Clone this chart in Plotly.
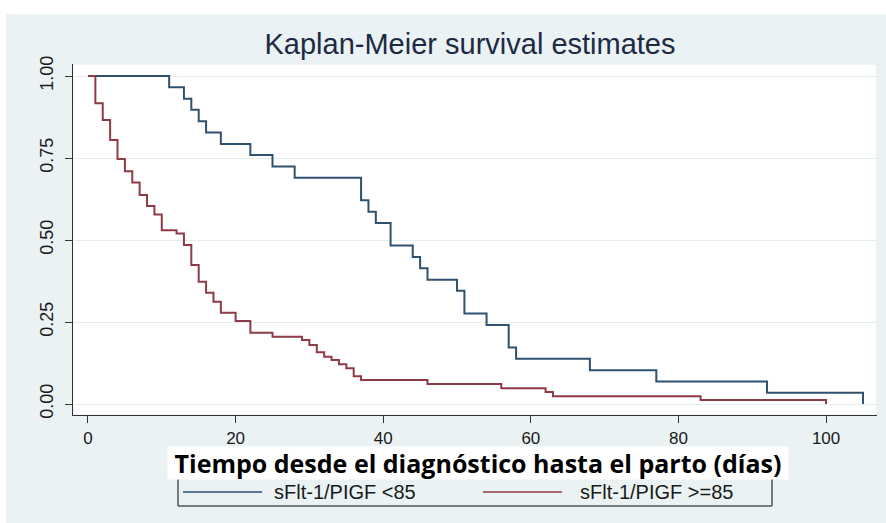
import plotly.graph_objects as go

# Kaplan-Meier step estimates: time of each drop (days) and survival after it
low_t = [0, 11, 13, 14, 15, 16, 18, 22, 25, 28, 37, 38, 39, 41, 44, 45, 46,
         50, 51, 54, 57, 58, 68, 77, 92, 105]
low_s = [1.0, 0.966, 0.931, 0.897, 0.862, 0.828, 0.793, 0.759, 0.724, 0.690,
         0.621, 0.586, 0.552, 0.483, 0.448, 0.414, 0.379, 0.345, 0.276, 0.241,
         0.172, 0.138, 0.103, 0.069, 0.034, 0.0]

high_t = [0, 1, 2, 3, 4, 5, 6, 7, 8, 9, 10, 12, 13, 14, 15, 16, 17, 18, 20,
          22, 25, 29, 30, 31, 32, 33, 34, 35, 36, 37, 46, 56, 62, 63, 83, 100]
high_s = [1.0, 0.917, 0.866, 0.805, 0.747, 0.710, 0.675, 0.637, 0.604, 0.578,
          0.530, 0.520, 0.485, 0.424, 0.373, 0.339, 0.312, 0.278, 0.253, 0.217,
          0.205, 0.195, 0.180, 0.158, 0.144, 0.134, 0.121, 0.109, 0.085, 0.073,
          0.061, 0.048, 0.037, 0.024, 0.012, 0.0]

group_names = ["sFlt-1/PIGF <85", "sFlt-1/PIGF >=85"]
group_colors = ["#2e5170", "#8f3b45"]

x_ticks = [0, 20, 40, 60, 80, 100]
y_ticks = [0.0, 0.25, 0.5, 0.75, 1.0]
y_tick_text = ["0.00", "0.25", "0.50", "0.75", "1.00"]

W, H = 886, 523
ML, MR, MT, MB = 73, 9, 64, 108
PW, PH = W - ML - MR, H - MT - MB


def px(xp):
    return (xp - ML) / PW


def py(yp):
    return (H - MB - yp) / PH


fig = go.Figure()
for t, s, name, col in zip([low_t, high_t], [low_s, high_s], group_names, group_colors):
    fig.add_trace(go.Scatter(x=t, y=s, mode="lines", name=name,
                             line=dict(color=col, width=2, shape="hv"),
                             showlegend=False))

helv = "Liberation Sans, Arial, sans-serif"

fig.update_layout(
    width=W, height=H,
    margin=dict(l=ML, r=MR, t=MT, b=MB, pad=0),
    paper_bgcolor="#eaf2f3",
    plot_bgcolor="#ffffff",
    title=dict(text="Kaplan-Meier survival estimates",
               x=px(470), xanchor="center", xref="paper",
               y=1 - 44 / H, yanchor="middle", yref="container",
               font=dict(family=helv, size=29, color="#1c2a44")),
    xaxis=dict(range=[-2.03, 106.9], tickvals=x_ticks, showgrid=False,
               zeroline=False, showline=True, linecolor="#333333", linewidth=1.2,
               ticks="outside", ticklen=7, tickcolor="#333333", tickwidth=1.2,
               tickfont=dict(family=helv, size=17, color="#1a1a1a"),
               ticklabelstandoff=0),
    yaxis=dict(range=[-0.0335, 1.0366], tickvals=y_ticks, ticktext=y_tick_text,
               tickangle=-90, showgrid=True, gridcolor="#e6eef0", gridwidth=1,
               zeroline=False, showline=True, linecolor="#333333", linewidth=1.2,
               ticks="outside", ticklen=7, tickcolor="#333333", tickwidth=1.2,
               tickfont=dict(family=helv, size=18, color="#1a1a1a"),
               ticklabelstandoff=5),
)

shapes = [
    # white margins at the top and left edge of the page
    dict(type="rect", xref="paper", yref="paper", x0=px(0), x1=px(W), y0=py(14), y1=py(0),
         fillcolor="#ffffff", line=dict(width=0), layer="below"),
    dict(type="rect", xref="paper", yref="paper", x0=px(0), x1=px(6), y0=py(H), y1=py(0),
         fillcolor="#ffffff", line=dict(width=0), layer="below"),
    # faint outline of the plot region
    dict(type="rect", xref="paper", yref="paper", x0=0, x1=1, y0=0, y1=1,
         line=dict(color="#e3ebed", width=1), layer="below"),
    # legend frame (top edge sits under the axis title box)
    dict(type="line", xref="paper", yref="paper", x0=px(178), x1=px(178), y0=py(478), y1=py(506),
         line=dict(color="#555555", width=1.5)),
    dict(type="line", xref="paper", yref="paper", x0=px(178), x1=px(772), y0=py(506), y1=py(506),
         line=dict(color="#555555", width=1.5)),
    dict(type="line", xref="paper", yref="paper", x0=px(772), x1=px(772), y0=py(478), y1=py(506),
         line=dict(color="#555555", width=1.5)),
    # legend keys
    dict(type="line", xref="paper", yref="paper", x0=px(183), x1=px(262), y0=py(492), y1=py(492),
         line=dict(color=group_colors[0], width=1.5)),
    dict(type="line", xref="paper", yref="paper", x0=px(483), x1=px(562), y0=py(492), y1=py(492),
         line=dict(color=group_colors[1], width=1.5)),
]
fig.update_layout(shapes=shapes)

legend_font = dict(family=helv, size=20, color="#1a1a1a")
annotations = [
    dict(text=group_names[0], xref="paper", yref="paper", x=px(272), y=py(492),
         xanchor="left", yanchor="middle", showarrow=False, font=legend_font),
    dict(text=group_names[1], xref="paper", yref="paper", x=px(578), y=py(492),
         xanchor="left", yanchor="middle", showarrow=False, font=legend_font),
    dict(text="<b>Tiempo desde el diagnóstico hasta el parto (días)</b>",
         xref="paper", yref="paper", x=px(478), y=py(463),
         xanchor="center", yanchor="middle", showarrow=False,
         bgcolor="#ffffff", width=620, height=32, borderpad=0,
         font=dict(family="Open Sans, sans-serif", size=25, color="#000000")),
]
fig.update_layout(annotations=annotations)

fig.write_html("out.html")
